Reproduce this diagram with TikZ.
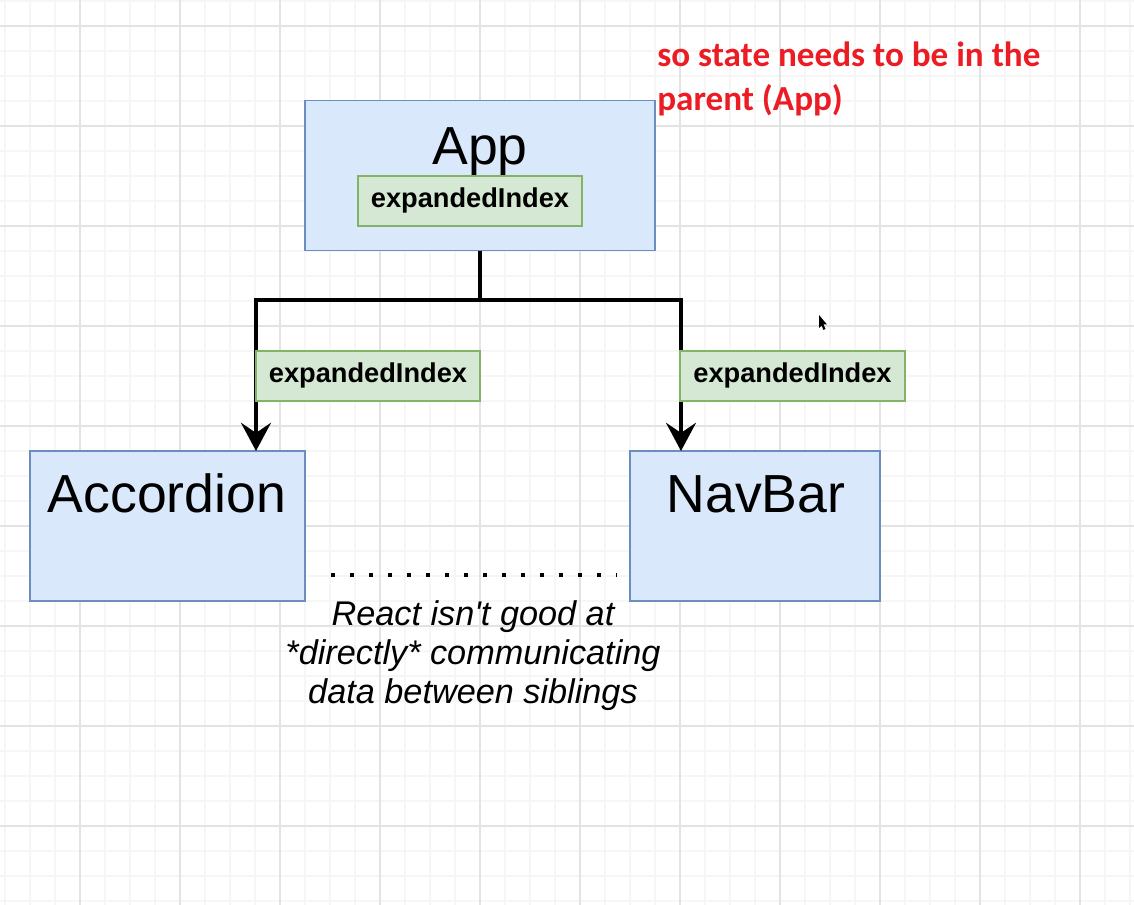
\documentclass[tikz,border=0pt]{standalone}
\usepackage{fontspec}
\setmainfont{Liberation Sans}
\newfontfamily\notefont{Carlito}
\usetikzlibrary{arrows.meta,positioning}

\definecolor{compfill}{HTML}{DAE8FC}
\definecolor{compline}{HTML}{6C8EBF}
\definecolor{propfill}{HTML}{D5E8D4}
\definecolor{propline}{HTML}{82B366}
\definecolor{notered}{RGB}{236,28,36}
\definecolor{gridminor}{HTML}{F6F6F6}
\definecolor{gridmajor}{HTML}{E3E3E3}

\tikzset{
  comp/.style={draw=compline, fill=compfill, line width=1.1pt, minimum height=3cm, inner sep=0pt},
  prop/.style={draw=propline, fill=propfill, line width=1.1pt, minimum width=4.48cm, minimum height=1cm,
    inner sep=0pt, text height=0.9em, text depth=0.21em, font=\fontsize{15.5}{18}\selectfont\bfseries},
  title/.style={anchor=base, inner sep=0pt, font=\fontsize{30.5}{36}\selectfont},
  link/.style={line width=2.3pt, line join=miter},
  tip/.style={-{Stealth[length=16pt, width=17pt, inset=5.7pt]}},
  dots/.style={line width=2.4pt, dash pattern=on 2.4pt off 8.4pt}
}

\begin{document}
\begin{tikzpicture}[x=0.02cm, y=-0.02cm]
  \useasboundingbox (0,0) rectangle (1134,905);
  \fill[white] (0,0) rectangle (1134,905);

  % background grid
  \foreach \gx in {5,30,...,1130} \draw[gridminor, line width=0.7pt] (\gx,0) -- (\gx,905);
  \foreach \gy in {1,26,...,901} \draw[gridminor, line width=0.7pt] (0,\gy) -- (1134,\gy);
  \foreach \gx in {80,180,...,1080} \draw[gridmajor, line width=0.7pt] (\gx,0) -- (\gx,905);
  \foreach \gy in {26,126,...,826} \draw[gridmajor, line width=0.7pt] (0,\gy) -- (1134,\gy);

  % components
  \node[comp, minimum width=7cm] (app) at (480,175.5) {};
  \node[title] (apptitle) at (480,165) {App};
  \node[comp, minimum width=5.5cm] (accordion) at (167.5,526) {};
  \node[title] (acctitle) at (167,513) {Accordion};
  \node[comp, minimum width=5cm] (navbar) at (755,526) {};
  \node[title] (navtitle) at (756,513) {NavBar};

  % props passed down
  \coordinate (fork) at (480,300);
  \coordinate (accin) at (256,451);
  \coordinate (navin) at (681,451);
  \draw[link, tip] (app.south) -- (fork) -| (accin);
  \draw[link, tip] (fork) -| (navin);

  \node[prop] (appstate) at (470,201) {expandedIndex};
  \node[prop] (accprop) at (368,376) {expandedIndex};
  \node[prop, minimum width=4.5cm] (navprop) at (792.5,376) {expandedIndex};

  % no direct link between siblings
  \coordinate (gapL) at (331,575);
  \coordinate (gapR) at (616,575);
  \draw[dots] (gapL) -- (gapR);
  \node[align=center, inner sep=0pt, anchor=base, font=\itshape\fontsize{19.5}{22.2}\selectfont] (sibnote)
    at (473,704) {React isn\textquotesingle t good at\\*directly* communicating\\data between siblings};

  \node[align=left, inner sep=0pt, anchor=base west, text=notered, font=\notefont\bfseries\fontsize{20}{25.6}\selectfont]
    (statenote) at (657,111) {so state needs to be in the\\parent (App)};

  % mouse pointer
  \fill[black] (819,315) -- (819,328) -- (821.5,325.5) -- (823.5,330) -- (825.5,329)
    -- (823.5,324.5) -- (827,324.5) -- cycle;
\end{tikzpicture}
\end{document}
